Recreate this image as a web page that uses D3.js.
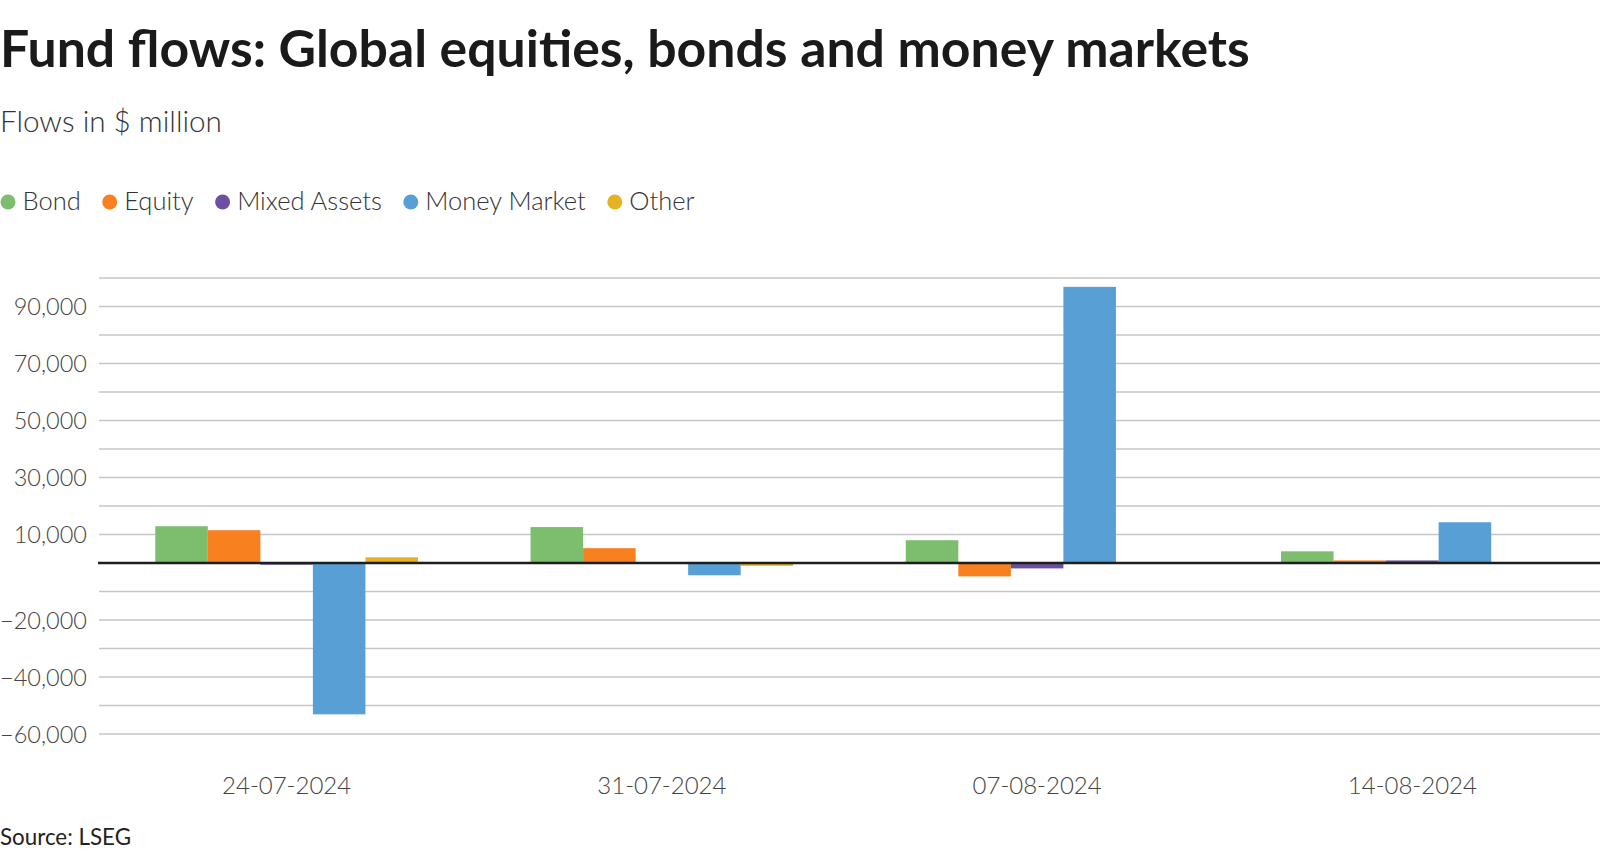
<!DOCTYPE html>
<html>
<head>
<meta charset="utf-8">
<script src="https://cdn.jsdelivr.net/npm/d3@7"></script>
<style>
  html, body { margin: 0; padding: 0; background: #fff; }
  svg { display: block; }
  text { font-family: Lato, "Open Sans", sans-serif; }
</style>
</head>
<body>
<svg id="chart" width="1600" height="858"></svg>
<script>
// ---- data ----
const categories = ["24-07-2024", "31-07-2024", "07-08-2024", "14-08-2024"];
const seriesNames = ["Bond", "Equity", "Mixed Assets", "Money Market", "Other"];
const bond = [12900, 12600, 8000, 4100];
const equity = [11500, 5200, -4700, 900];
const mixedAssets = [-600, -200, -1900, 900];
const moneyMarket = [-53100, -4300, 96900, 14300];
const other = [2000, -1000, 0, 0];
const gridValues = d3.range(-60000, 100001, 10000);
const tickLabels = [90000, 70000, 50000, 30000, 10000, -20000, -40000, -60000];

const seriesValues = [bond, equity, mixedAssets, moneyMarket, other];
const colors = ["#7dbd6e", "#f8801f", "#6a4fa3", "#579fd5", "#e4b325"];

const svg = d3.select("#chart");

// fit text width helper
function fit(sel, target) {
  const node = sel.node();
  const fs = parseFloat(sel.attr("font-size"));
  const w = node.getComputedTextLength();
  if (w > 0) sel.attr("font-size", (fs * target / w).toFixed(2));
  return sel;
}

// ---- titles ----
fit(svg.append("text").attr("x", 0).attr("y", 67)
  .attr("font-size", 48).attr("font-weight", 700).attr("fill", "#1a1a1a")
  .text("Fund flows: Global equities, bonds and money markets"), 1250);

fit(svg.append("text").attr("x", 0).attr("y", 132)
  .attr("font-size", 28).attr("font-weight", 300).attr("fill", "#333")
  .text("Flows in $ million"), 222);

// ---- legend ----
const legend = svg.append("g");
let lx = 0;
seriesNames.forEach((name, i) => {
  legend.append("circle").attr("cx", lx + 8).attr("cy", 202).attr("r", 7.5).attr("fill", colors[i]);
  const t = legend.append("text").attr("x", lx + 22.5).attr("y", 210)
    .attr("font-size", 25.5).attr("font-weight", 300).attr("fill", "#333").text(name);
  const w = t.node().getComputedTextLength();
  lx = lx + 22.5 + w + 21;
});

// ---- scales ----
const y = d3.scaleLinear().domain([-60000, 100000]).range([734, 278]);
const x0 = d3.scaleBand().domain(categories).range([99, 1600]).paddingInner(0.3).paddingOuter(0.15);
const x1 = d3.scaleBand().domain(seriesNames).range([0, x0.bandwidth()]).padding(0);

// ---- grid ----
svg.append("g").selectAll("line").data(gridValues.filter(v => v !== 0)).join("line")
  .attr("x1", 99).attr("x2", 1600)
  .attr("y1", d => y(d)).attr("y2", d => y(d))
  .attr("stroke", "#c6c6c6").attr("stroke-width", 1.5);

// ---- y axis labels ----
const fmt = d3.format(",");
const yAxis = d3.axisLeft(y).tickValues(tickLabels).tickFormat(fmt).tickSize(0).tickPadding(0);
const yg = svg.append("g").attr("transform", "translate(87,0)").call(yAxis);
yg.select(".domain").remove();
yg.selectAll("text").attr("font-size", 23.5).attr("font-weight", 300).attr("fill", "#444")
  .attr("font-family", "Lato, sans-serif").attr("dy", "0.35em");

// ---- bars ----
const rows = categories.map((c, ci) => ({
  cat: c,
  vals: seriesNames.map((s, si) => ({ s, si, v: seriesValues[si][ci] }))
}));
const groups = svg.append("g").selectAll("g").data(rows).join("g")
  .attr("transform", d => `translate(${x0(d.cat)},0)`);
groups.selectAll("rect").data(d => d.vals).join("rect")
  .attr("x", d => x1(d.s))
  .attr("width", x1.bandwidth())
  .attr("y", d => y(Math.max(0, d.v)))
  .attr("height", d => Math.abs(y(d.v) - y(0)))
  .attr("fill", d => colors[d.si]);

// ---- zero line ----
svg.append("line").attr("x1", 98).attr("x2", 1600).attr("y1", y(0)).attr("y2", y(0))
  .attr("stroke", "#1e1e1e").attr("stroke-width", 2.5);

// ---- x axis labels ----
const xAxis = d3.axisBottom(x0).tickSize(0).tickPadding(0);
const xg = svg.append("g").attr("transform", "translate(0,794)").call(xAxis);
xg.select(".domain").remove();
xg.selectAll("text").attr("font-size", 24).attr("font-weight", 300).attr("fill", "#444")
  .attr("font-family", "Lato, sans-serif").attr("dy", 0);

// ---- source ----
fit(svg.append("text").attr("x", 0).attr("y", 845)
  .attr("font-size", 22).attr("font-weight", 400).attr("fill", "#222")
  .text("Source: LSEG"), 131);
</script>
</body>
</html>
